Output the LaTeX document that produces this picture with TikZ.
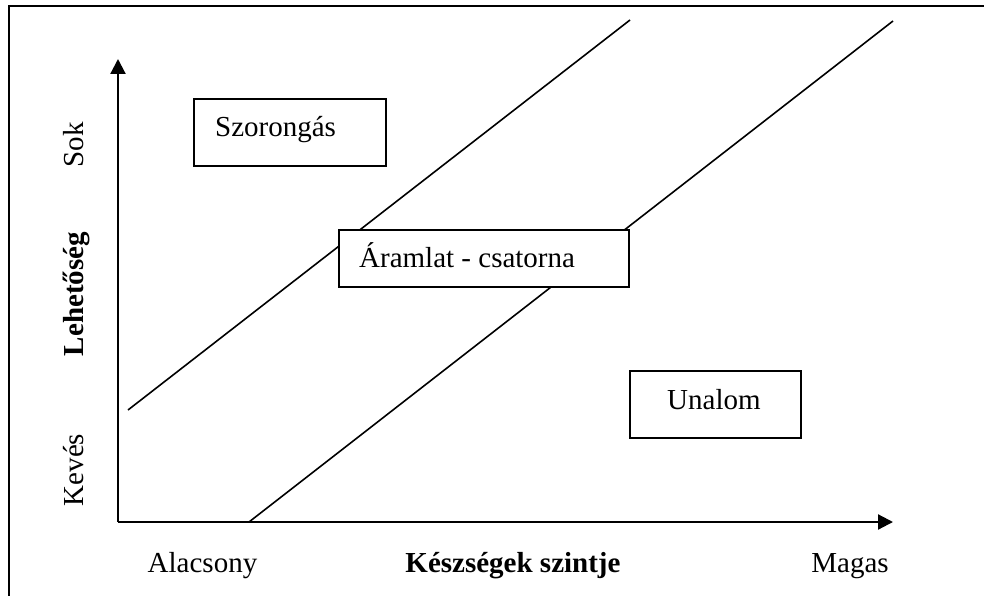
\documentclass[tikz,border=0pt]{standalone}
\usepackage{fontspec}
\setmainfont{Liberation Serif}
\usetikzlibrary{arrows.meta}
\begin{document}
\begin{tikzpicture}[x=1pt,y=-1pt,
  lbl/.style={inner sep=0pt,font=\fontsize{29}{34}\selectfont},
  blbl/.style={inner sep=0pt,font=\fontsize{29}{34}\selectfont\bfseries},
  box/.style={draw,line width=1.7pt,fill=white,inner sep=0pt,anchor=north west},
  axis/.style={line width=2.2pt,-{Triangle[width=15pt,length=15pt]}},
  diag/.style={line width=1.6pt}]
\useasboundingbox (0,0) rectangle (984,596);
% frame (top and left only)
\draw[line width=2pt] (8.5,596) -- (8.5,6.5) -- (984,6.5);
% coordinates
\coordinate (o) at (118,522);
\coordinate (ytip) at (118,59);
\coordinate (xtip) at (893,522);
\coordinate (a1) at (128,410);
\coordinate (a2) at (630,20);
\coordinate (b1) at (249,522);
\coordinate (b2) at (893,21);
% diagonal lines
\draw[diag] (a1) -- (a2);
\draw[diag] (b1) -- (b2);
% axes
\draw[axis] (o) -- (ytip);
\draw[axis] (o) -- (xtip);
% boxes
\node[box,minimum width=192pt,minimum height=67pt] (szb) at (193,98) {};
\node[lbl,anchor=base west] (szt) at (215,137) {Szorongás};
\node[box,minimum width=290pt,minimum height=57pt] (arb) at (338,229) {};
\node[lbl,anchor=base west] (art) at (359,267) {Áramlat - csatorna};
\node[box,minimum width=171pt,minimum height=67pt] (unb) at (629,370) {};
\node[lbl,anchor=base west] (unt) at (667,409) {Unalom};
% axis labels
\node[lbl,anchor=base] (alac) at (202.5,572) {Alacsony};
\node[blbl,anchor=base] (kesz) at (513,572) {Készségek szintje};
\node[lbl,anchor=base] (mag) at (850,572) {Magas};
\node[lbl,anchor=base,rotate=90] (sok) at (83,145) {Sok};
\node[blbl,anchor=base,rotate=90] (leh) at (83,294) {Lehetőség};
\node[lbl,anchor=base,rotate=90] (kev) at (83,470) {Kevés};
\end{tikzpicture}
\end{document}
